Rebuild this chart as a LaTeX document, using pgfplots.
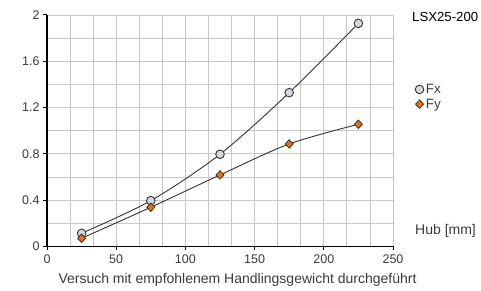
\documentclass[border=0pt]{standalone}
\usepackage{pgfplots}
\pgfplotsset{compat=1.18}
\usepackage{fontspec}
\setmainfont{Liberation Sans}
\definecolor{txt}{HTML}{3A3A3A}
\definecolor{gridc}{HTML}{C8C8C8}
\definecolor{linec}{HTML}{333333}
\definecolor{fxfill}{HTML}{D6D6DE}
\definecolor{fyfill}{HTML}{E8730C}
\begin{document}
\begin{tikzpicture}[font=\fontsize{14}{16}\selectfont\color{txt}]
\useasboundingbox (0,0) rectangle (481pt,291pt);
\begin{axis}[
  at={(47pt,44.5pt)}, anchor=south west,
  scale only axis, width=346pt, height=231.5pt,
  xmin=0, xmax=250, ymin=0, ymax=2,
  xtick={0,50,...,250}, ytick={0,0.4,...,2.0},
  yticklabels={0,0.4,0.8,1.2,1.6,2},
  minor x tick num=2, minor y tick num=1,
  grid=both,
  major grid style={gridc, line width=0.8pt},
  minor grid style={gridc, line width=0.8pt},
  axis x line*=bottom, axis y line*=left,
  axis line style={black, line width=1.2pt, -},
  tick align=outside, major tick length=4pt, minor tick length=0pt,
  tick style={black, line width=1pt},
  tick label style={font=\fontsize{12.5}{14}\selectfont\color{txt}},
  /pgf/number format/assume math mode=true,
  xticklabel style={yshift=-1pt},
  clip=false,
  legend style={draw=none, fill=none, at={(1.055,0.72)}, anchor=north west,
    font=\fontsize{13.5}{15}\selectfont\color{txt}, row sep=0pt,
    /tikz/every even column/.append style={column sep=0pt}},
  legend cell align=left,
  legend image code/.code={\draw[#1] plot[only marks] coordinates {(0.12cm,0cm)};},
]
\addplot[linec, line width=0.9pt, smooth, tension=0.5, mark=*, mark size=4.3pt,
  mark options={fill=fxfill, draw=linec, line width=0.9pt}]
  coordinates {(25,0.114) (75,0.396) (125,0.797) (175,1.329) (225,1.928)};
\addlegendentry{Fx}
\addplot[linec, line width=0.9pt, smooth, tension=0.5, mark=diamond*, mark size=4.2pt,
  mark options={fill=fyfill, draw=linec, line width=0.8pt, xscale=1.27}]
  coordinates {(25,0.071) (75,0.339) (125,0.618) (175,0.886) (225,1.056)};
\addlegendentry{Fy}
\end{axis}
\node[anchor=west, inner sep=0pt, font=\fontsize{13.2}{15}\selectfont] at (412pt,274pt) {LSX25-200};
\node[anchor=west, inner sep=0pt] at (415pt,60pt) {Hub [mm]};
\node[inner sep=0pt] at (237.5pt,11pt) {Versuch mit empfohlenem Handlingsgewicht durchgeführt};
\end{tikzpicture}
\end{document}
